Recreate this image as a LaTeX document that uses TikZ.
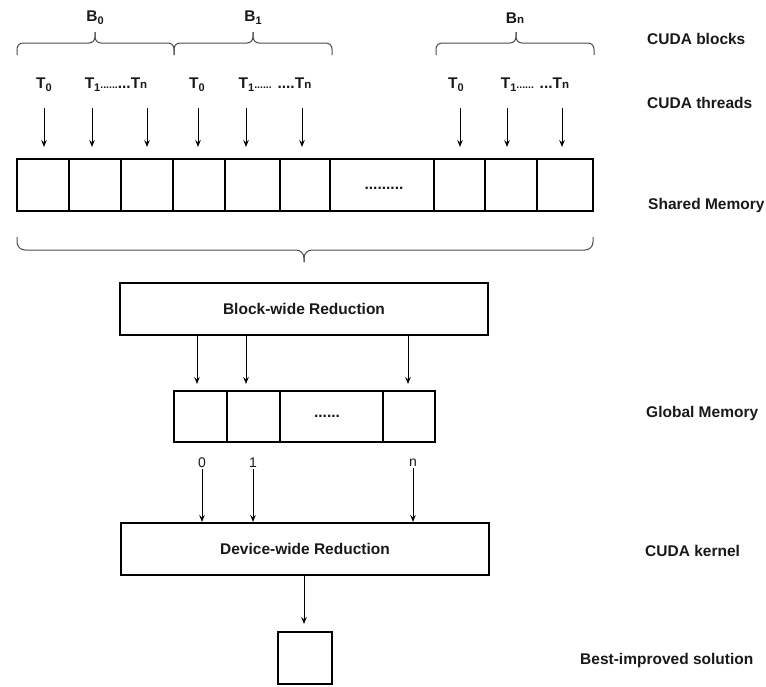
\documentclass[tikz,border=0pt]{standalone}
\usepackage{fontspec}
\setmainfont{Liberation Sans}
\usetikzlibrary{arrows.meta}
\newcommand\lowsub[1]{\raisebox{-0.4ex}{\fontsize{11}{11}\selectfont #1}}
\newcommand\basesub[1]{{\fontsize{11.5}{11}\selectfont #1}}
\newcommand\tinydots[1]{{\fontsize{10.5}{8}\selectfont #1}}
\begin{document}
\begin{tikzpicture}[x=1pt,y=-1pt,
  lbl/.style={font=\fontsize{15.5}{18}\selectfont\bfseries, inner sep=0pt, text=black!90},
  num/.style={font=\fontsize{14}{16}\selectfont, inner sep=1pt, text=black!90},
  cell/.style={draw, line width=2pt, minimum height=52pt, inner sep=0pt},
  bigbox/.style={draw, line width=2pt, minimum width=368pt, minimum height=52pt},
  arr/.style={line width=1pt, -{Stealth[length=7pt,width=5.5pt,inset=2.5pt]}},
  brc/.style={line width=1pt, draw=black!70, rounded corners=6pt},
]
\useasboundingbox (0,0) rectangle (766,686);

% braces and block labels
\draw[brc] (17,55) |- (95,43) -- (95,32);
\draw[brc] (174,55) |- (95,43) -- (95,32);
\draw[brc] (174,55) |- (253,43) -- (253,32);
\draw[brc] (332,55) |- (253,43) -- (253,32);
\draw[brc] (436,55) |- (516,43) -- (516,32);
\draw[brc] (594,55) |- (516,43) -- (516,32);
\node[lbl] (b0) at (95,18) {B\lowsub{0}};
\node[lbl] (b1) at (253,18) {B\lowsub{1}};
\node[lbl] (bn) at (515,18) {B\basesub{n}};

% thread labels
\node[lbl] (t0a) at (44,85) {T\lowsub{0}};
\node[lbl] (t1a) at (116,85) {T\lowsub{1}\tinydots{......}...T\basesub{n}};
\node[lbl] (t0b) at (197,85) {T\lowsub{0}};
\node[lbl] (t1b) at (275,85) {T\lowsub{1}\tinydots{......} ....T\basesub{n}};
\node[lbl] (t0c) at (456,85) {T\lowsub{0}};
\node[lbl] (t1c) at (535,85) {T\lowsub{1}\tinydots{......} ...T\basesub{n}};

% thread arrows
\foreach \i/\x in {1/44,2/92,3/147,4/198,5/246,6/302,7/460,8/507,9/562}{
  \coordinate (ta\i) at (\x,108);
  \coordinate (tb\i) at (\x,147);
  \draw[arr] (ta\i) -- (tb\i);
}

% shared memory cells
\foreach \i/\l/\r in {1/17/69,2/69/121,3/121/173,4/173/225,5/225/280,6/280/330,7/330/434,8/434/485,9/485/537,10/537/593}{
  \node[cell, minimum width=\r pt-\l pt] (s\i) at ({(\l+\r)/2},185) {};
}
\node[lbl] (sdots) at (384,188) {.........};

% big brace
\draw[brc, rounded corners=8pt] (17,237) |- (304,250) -- (304,262);
\draw[brc, rounded corners=8pt] (593,237) |- (304,250) -- (304,262);

% block-wide reduction
\node[bigbox, lbl, inner sep=0pt] (blk) at (304,309) {Block-wide Reduction};
\foreach \i/\x in {1/197,2/246,3/408}{
  \coordinate (ga\i) at (\x,384);
  \draw[arr] (blk.south -| ga\i) -- (ga\i);
}

% global memory cells
\foreach \i/\l/\r in {1/174/227,2/227/280,3/280/383,4/383/435}{
  \node[cell, minimum width=\r pt-\l pt, minimum height=51pt] (g\i) at ({(\l+\r)/2},416) {};
}
\node[lbl] (gdots) at (327,416) {......};

% indices
\node[num] (n0) at (202,463) {0};
\node[num] (n1) at (253,463) {1};
\node[num] (nn) at (413,463) {n};

% device-wide reduction
\node[bigbox, lbl, inner sep=0pt] (dev) at (305,549) {Device-wide Reduction};
\draw[arr] (n0.south) -- (n0.south |- dev.north);
\draw[arr] (n1.south) -- (n1.south |- dev.north);
\draw[arr] (nn.south) -- (nn.south |- dev.north);

% result
\node[cell, minimum width=54pt, minimum height=52pt] (best) at (305,658) {};
\coordinate (bt) at (304,624);
\draw[arr] (dev.south -| bt) -- (bt);

% right-hand labels
\node[lbl, anchor=west] (lb1) at (647,39) {CUDA blocks};
\node[lbl, anchor=west] (lb2) at (647,103) {CUDA threads};
\node[lbl, anchor=west] (lb3) at (648,205) {Shared Memory};
\node[lbl, anchor=west] (lb4) at (646,413) {Global Memory};
\node[lbl, anchor=west] (lb5) at (645,551) {CUDA kernel};
\node[lbl, anchor=west] (lb6) at (580,660) {Best-improved solution};
\end{tikzpicture}
\end{document}
